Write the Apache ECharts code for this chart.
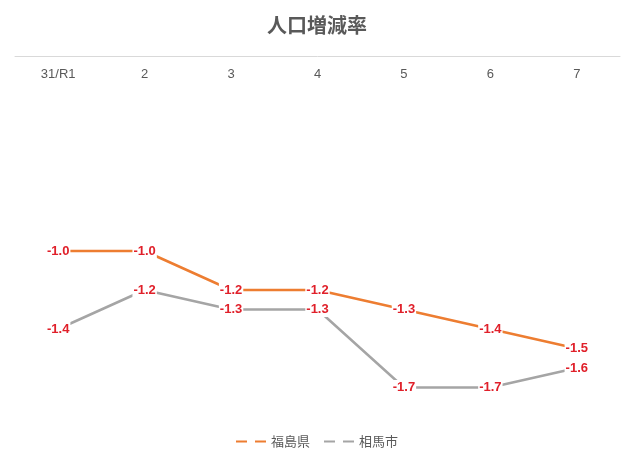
<!DOCTYPE html>
<html>
<head>
<meta charset="utf-8">
<script src="https://cdn.jsdelivr.net/npm/echarts@6/dist/echarts.min.js"></script>
<style>
html,body{margin:0;padding:0;background:#fff;}
#chart{width:634px;height:459px;}
</style>
</head>
<body>
<div id="chart"></div>
<script>
var titleText = '人口増減率';
var categories = ['31/R1', '2', '3', '4', '5', '6', '7'];
var fukushimaName = '福島県';
var somaName = '相馬市';
var fukushima = [-1.0, -1.0, -1.2, -1.2, -1.3, -1.4, -1.5];
var soma = [-1.4, -1.2, -1.3, -1.3, -1.7, -1.7, -1.6];

var chart = echarts.init(document.getElementById('chart'));
var font = '"Noto Sans CJK JP", "Liberation Sans", sans-serif';
var labelStyle = {
  show: true,
  position: 'inside',
  color: '#E0202A',
  fontWeight: 'bold',
  fontSize: 13,
  fontFamily: '"Liberation Sans Narrow", "Liberation Sans", Arial, sans-serif',
  backgroundColor: '#ffffff',
  padding: [1, 1],
  formatter: function (p) { return p.value.toFixed(1); }
};
var dashIcon = 'path://M0,0H11V2H0Z M19,0H30V2H19Z';
chart.setOption({
  animation: false,
  backgroundColor: '#ffffff',
  textStyle: { fontFamily: font },
  title: {
    text: titleText,
    left: 'center',
    top: 10,
    textStyle: { color: '#595959', fontSize: 20, fontWeight: 'bold', fontFamily: font }
  },
  legend: {
    left: 'center',
    top: 430,
    itemWidth: 30,
    itemHeight: 3,
    itemGap: 14,
    textStyle: { color: '#595959', fontSize: 13, fontFamily: font },
    data: [
      { name: fukushimaName, icon: dashIcon },
      { name: somaName, icon: dashIcon }
    ]
  },
  grid: { left: 15, right: 14, top: 56, bottom: 52 },
  xAxis: {
    type: 'category',
    position: 'top',
    data: categories,
    boundaryGap: true,
    axisLine: { show: true, onZero: false, lineStyle: { color: '#D9D9D9', width: 1 } },
    axisTick: { show: false },
    axisLabel: { inside: true, color: '#595959', fontSize: 13, margin: 12, fontFamily: '"Liberation Sans", Arial, sans-serif' }
  },
  yAxis: {
    type: 'value',
    min: -1.8,
    max: 0,
    show: false,
    splitLine: { show: false }
  },
  series: [
    {
      name: fukushimaName,
      type: 'line',
      data: fukushima,
      symbol: 'circle',
      symbolSize: 1,
      showSymbol: true,
      lineStyle: { color: '#ED7D31', width: 2.5 },
      itemStyle: { color: '#ED7D31' },
      label: labelStyle,
      z: 3
    },
    {
      name: somaName,
      type: 'line',
      data: soma,
      symbol: 'circle',
      symbolSize: 1,
      showSymbol: true,
      lineStyle: { color: '#A5A5A5', width: 2.5 },
      itemStyle: { color: '#A5A5A5' },
      label: labelStyle,
      z: 2
    }
  ]
});
</script>
</body>
</html>
